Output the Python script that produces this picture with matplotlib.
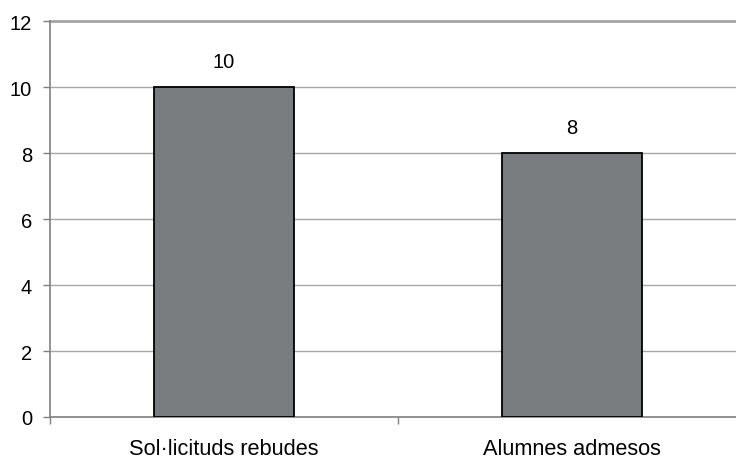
import matplotlib
matplotlib.use('Agg')
import matplotlib.pyplot as plt

categories = ['Sol·licituds rebudes', 'Alumnes admesos']
values = [10, 8]
y_ticks = [0, 2, 4, 6, 8, 10, 12]

plt.rcParams['font.family'] = ['Liberation Sans', 'DejaVu Sans']

W, H = 736, 460
fig = plt.figure(figsize=(W / 100, H / 100), dpi=100)
# axes runs a bit past the right edge of the picture, like the original
ax = fig.add_axes([50 / W, 42 / H, 696 / W, 396 / H])

x = list(range(len(categories)))
ax.bar(x, values, width=0.40, color='#7a7d80', edgecolor='black', linewidth=1.3, zorder=3)
for xi, v in zip(x, values):
    ax.text(xi, v + 0.6, str(v), ha='center', va='baseline', fontsize=14.5)

ax.set_xlim(-0.5, 1.5)
ax.set_ylim(0, 12)
ax.set_yticks(y_ticks)
ax.yaxis.grid(True, color='#a6a6a6', linewidth=1, zorder=0)
ax.tick_params(axis='y', labelsize=14.5, color='#808080', length=5, width=1, pad=8)

ax.set_xticks(x)
ax.set_xticklabels(categories, fontsize=15.7)
ax.tick_params(axis='x', length=0, pad=15)
# minor ticks between categories
ax.set_xticks([-0.5, 0.5], minor=True)
ax.tick_params(axis='x', which='minor', length=5, color='#808080', width=1)

for s in ['top', 'right']:
    ax.spines[s].set_visible(False)
ax.spines['left'].set_color('#808080')
ax.spines['bottom'].set_color('#808080')
ax.spines['left'].set_linewidth(1.2)
ax.spines['bottom'].set_linewidth(1.2)
ax.axhline(12, color='#a6a6a6', linewidth=2, clip_on=False)

fig.savefig('out.png', dpi=100)
